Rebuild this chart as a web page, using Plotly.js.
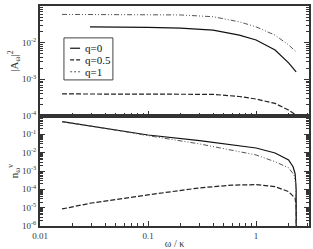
<!DOCTYPE html>
<html><head><meta charset="utf-8">
<script src="https://cdn.plot.ly/plotly-3.0.1.min.js"></script>
<style>html,body{margin:0;padding:0;background:#fff}#c{width:313px;height:249px}</style>
</head><body><div id="c"></div>
<script>
// Top panel |A_w|^2
const topX_q0 = [0.029, 0.05, 0.1, 0.2, 0.4, 0.7, 1.0, 1.5, 2.0, 2.35];
const topY_q0 = [0.027, 0.027, 0.026, 0.025, 0.022, 0.016, 0.0118, 0.0063, 0.0028, 0.0016];
const topX_q05 = [0.016, 0.05, 0.1, 0.2, 0.4, 0.7, 1.0, 1.5, 2.0, 2.3];
const topY_q05 = [0.0004, 0.0004, 0.0004, 0.0004, 0.00039, 0.00034, 0.00029, 0.00022, 0.000145, 0.00011];
const topX_q1 = [0.016, 0.05, 0.1, 0.2, 0.4, 0.7, 1.0, 1.5, 2.0, 2.35];
const topY_q1 = [0.059, 0.059, 0.058, 0.057, 0.051, 0.037, 0.027, 0.016, 0.0087, 0.0056];
// Bottom panel n_w^v
const botX_q0 = [0.016, 0.03, 0.1, 0.3, 1.0, 1.5, 2.0, 2.2, 2.3, 2.35, 2.36];
const botY_q0 = [0.49, 0.285, 0.092, 0.045, 0.018, 0.0096, 0.004, 0.0017, 0.0007, 0.0001, 1e-7];
const botX_q05 = [0.016, 0.03, 0.1, 0.3, 0.6, 1.0, 1.5, 2.0, 2.3, 2.35, 2.36];
const botY_q05 = [8.5e-6, 1.8e-5, 5e-5, 1.2e-4, 1.7e-4, 1.8e-4, 1.4e-4, 7.5e-5, 3.3e-5, 1e-5, 1e-7];
const botX_q1 = [0.016, 0.03, 0.1, 0.3, 1.0, 1.5, 2.0, 2.25, 2.33, 2.36];
const botY_q1 = [0.49, 0.28, 0.085, 0.03, 0.0075, 0.0032, 0.0015, 0.0006, 0.0002, 1e-7];
const seriesNames = ['q=0', 'q=0.5', 'q=1'];
const xTickVals = [0.01, 0.1, 1];
const xTickText = ['0.01', '0.1', '1'];
const topTickVals = [1e-4, 1e-3, 1e-2, 1e-1];
const topTickText = ['10<sup>-4</sup>', '10<sup>-3</sup>', '10<sup>-2</sup>', '10<sup>-1</sup>'];
const botTickVals = [1e-6, 1e-5, 1e-4, 1e-3, 1e-2, 1e-1];
const botTickText = ['10<sup>-6</sup>', '10<sup>-5</sup>', '10<sup>-4</sup>', '10<sup>-3</sup>', '10<sup>-2</sup>', '10<sup>-1</sup>'];

function minors(lo, hi) {
  const out = [];
  for (let e = lo; e < hi; e++) for (let k = 2; k <= 9; k++) out.push(k * Math.pow(10, e));
  return out;
}
const styles = [
  {color: '#111', width: 1.2, dash: 'solid'},
  {color: '#222', width: 1.2, dash: '5px,2px'},
  {color: '#555', width: 1, dash: '5px,2px,1px,2px,1px,2px'}
];
const traces = [
  {x: topX_q0, y: topY_q0, xaxis: 'x2', yaxis: 'y', line: styles[0]},
  {x: topX_q05, y: topY_q05, xaxis: 'x2', yaxis: 'y', line: styles[1]},
  {x: topX_q1, y: topY_q1, xaxis: 'x2', yaxis: 'y', line: styles[2]},
  {x: botX_q0, y: botY_q0, xaxis: 'x', yaxis: 'y2', line: styles[0]},
  {x: botX_q05, y: botY_q05, xaxis: 'x', yaxis: 'y2', line: styles[1]},
  {x: botX_q1, y: botY_q1, xaxis: 'x', yaxis: 'y2', line: styles[2]}
].map((t, i) => Object.assign({type: 'scatter', mode: 'lines', hoverinfo: 'skip', showlegend: false, name: seriesNames[i % 3]}, t));

const serif = 'Liberation Serif, Times New Roman, serif';
const font = {family: serif, size: 9, color: '#333'};
const axLine = {showline: true, linecolor: '#333', linewidth: 2, zeroline: false, showgrid: false};
const xr = [-2, 0.49];

// compact legend box (paper coordinates)
const legBox = {x0: 0.089, x1: 0.271, y0: 0.664, y1: 0.855};
const legRows = [0.808, 0.755, 0.701];
const shapes = [{type: 'rect', xref: 'paper', yref: 'paper', x0: legBox.x0, x1: legBox.x1, y0: legBox.y0, y1: legBox.y1,
  line: {color: '#444', width: 1}, fillcolor: '#fff', layer: 'above'}];
const annotations = [];
seriesNames.forEach((n, i) => {
  shapes.push({type: 'line', xref: 'paper', yref: 'paper', x0: 0.112, x1: 0.149, y0: legRows[i], y1: legRows[i],
    line: {color: styles[i].color, width: styles[i].width, dash: i === 2 ? '2px,2px' : (i === 1 ? '4px,2px' : 'solid')}, layer: 'above'});
  annotations.push({xref: 'paper', yref: 'paper', x: 0.158, y: legRows[i], xanchor: 'left', yanchor: 'middle',
    text: n, showarrow: false, font: {family: serif, size: 11, color: '#111'}});
});

const layout = {
  width: 313, height: 249,
  margin: {l: 40, r: 4, t: 6, b: 23},
  paper_bgcolor: '#fff', plot_bgcolor: '#fff',
  font: font,
  showlegend: false,
  shapes: shapes,
  annotations: annotations,
  xaxis: Object.assign({type: 'log', range: xr, anchor: 'y2', tickvals: xTickVals, ticktext: xTickText,
    ticks: 'inside', ticklen: 5, tickcolor: '#333', mirror: true,
    minor: {tickvals: minors(-2, 1), ticks: 'inside', ticklen: 3, tickcolor: '#333'},
    tickfont: {family: serif, size: 9, color: '#333'},
    title: {text: 'ω / κ', font: {family: serif, size: 10, color: '#333'}, standoff: 5}}, axLine),
  xaxis2: Object.assign({type: 'log', range: xr, anchor: 'y', matches: 'x', tickvals: xTickVals, showticklabels: false,
    ticks: 'inside', ticklen: 5, tickcolor: '#333', mirror: true,
    minor: {tickvals: minors(-2, 1), ticks: 'inside', ticklen: 3, tickcolor: '#333'}}, axLine),
  yaxis: Object.assign({type: 'log', range: [-4, -1], domain: [0.5, 1], anchor: 'x2',
    tickvals: topTickVals, ticktext: topTickText, ticks: 'inside', ticklen: 5, tickcolor: '#333', mirror: 'allticks',
    minor: {tickvals: minors(-4, -1), ticks: 'inside', ticklen: 3, tickcolor: '#333'},
    tickfont: {family: serif, size: 9, color: '#333'},
    title: {text: '|A<sub>ω</sub>|<sup>2</sup>', font: {family: serif, size: 11, color: '#333'}, standoff: 1}}, axLine),
  yaxis2: Object.assign({type: 'log', range: [-6, 0], domain: [0, 0.5], anchor: 'x',
    tickvals: botTickVals, ticktext: botTickText, ticks: 'inside', ticklen: 5, tickcolor: '#333', mirror: 'allticks',
    minor: {tickvals: minors(-6, 0), ticks: 'inside', ticklen: 3, tickcolor: '#333'},
    tickfont: {family: serif, size: 9, color: '#333'},
    title: {text: 'n<sub>ω</sub><sup>v</sup>', font: {family: serif, size: 11, color: '#333'}, standoff: 1}}, axLine)
};
Plotly.newPlot('c', traces, layout, {staticPlot: true, displayModeBar: false});
</script></body></html>
